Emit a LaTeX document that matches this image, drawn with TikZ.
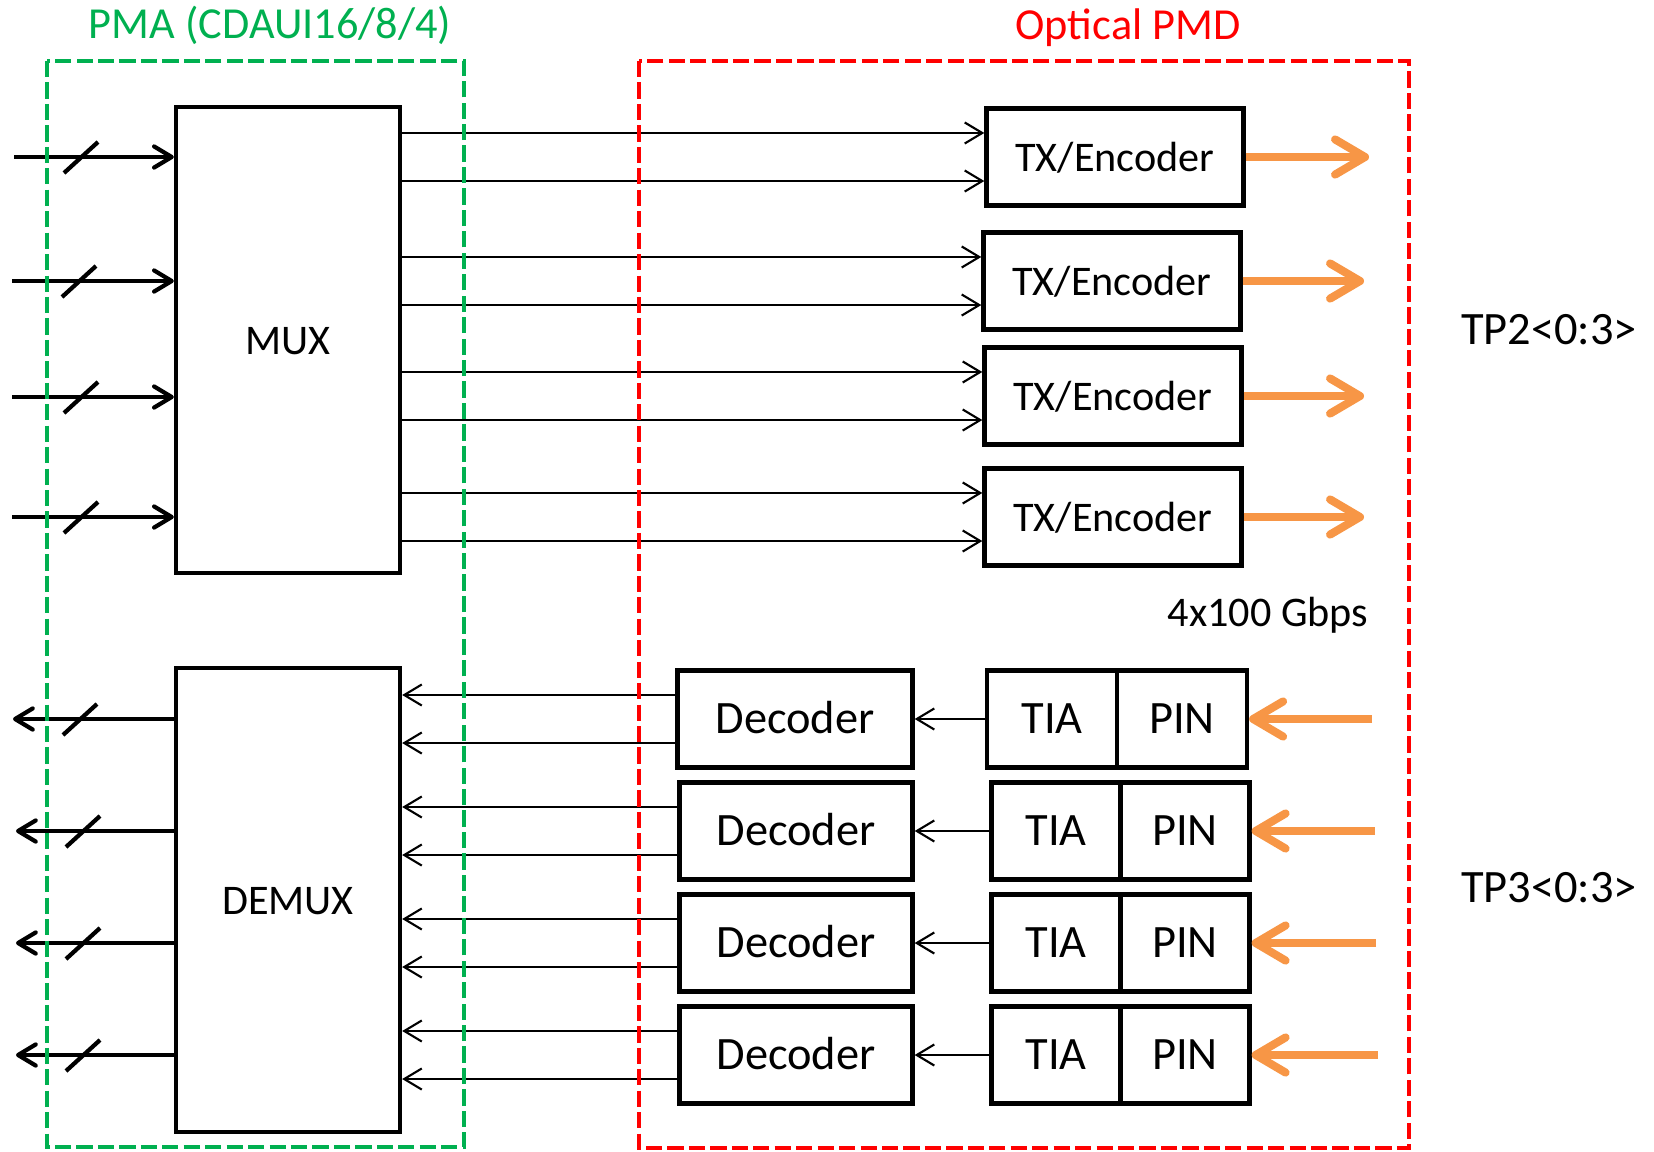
\documentclass[tikz,border=0pt]{standalone}
\usepackage{fontspec}
\setmainfont{Carlito}
\usetikzlibrary{arrows, arrows.meta}
\usetikzlibrary{calc}
\definecolor{pmagreen}{HTML}{00B050}
\definecolor{pmdred}{HTML}{FF0000}
\definecolor{fiberorange}{HTML}{F79646}

\begin{document}
\begin{tikzpicture}[x=0.01cm, y=-0.01cm,
    blk/.style={draw, line width=1.2pt, inner sep=0pt, text height=0.8em, text depth=0pt, font=\fontsize{12}{14}\selectfont},
    rxblk/.style={blk, minimum height=0.97cm, font=\fontsize{13.2}{15}\selectfont},
    lane/.style={line width=0.6pt, -{Straight Barb[length=5pt, width=6pt]}},
    bus/.style={line width=1.2pt, -{Straight Barb[length=5pt, width=6pt, round]}},
    busmark/.style={line width=1.2pt},
    fiber/.style={draw=fiberorange, line width=2.3pt, -{Straight Barb[length=8.5pt, width=10pt, round]}},
    frame/.style={line width=1.3pt, dash pattern=on 4.6pt off 1.5pt}]
    \useasboundingbox (0,0) rectangle (1654,1151);

    \node[blk, minimum width=2.24cm, minimum height=4.65cm] (mux) at (288,340) {MUX};
    \node[blk, minimum width=2.24cm, minimum height=4.63cm] (demux) at (288,900) {DEMUX};

    \node[blk, minimum width=2.57cm, minimum height=0.97cm] (tx1) at (1115,157) {TX/Encoder};
    \node[blk, minimum width=2.57cm, minimum height=0.97cm] (tx2) at (1112,281) {TX/Encoder};
    \node[blk, minimum width=2.57cm, minimum height=0.97cm] (tx3) at (1113,396) {TX/Encoder};
    \node[blk, minimum width=2.57cm, minimum height=0.97cm] (tx4) at (1113,517) {TX/Encoder};

    \node[rxblk, minimum width=2.35cm] (dec1) at (795,719) {Decoder};
    \node[rxblk, minimum width=2.33cm] (dec2) at (796,831) {Decoder};
    \node[rxblk, minimum width=2.33cm] (dec3) at (796,943) {Decoder};
    \node[rxblk, minimum width=2.33cm] (dec4) at (796,1055) {Decoder};
    \node[rxblk, minimum width=1.30cm] (tia1) at (1052,719) {TIA};
    \node[rxblk, minimum width=1.30cm] (pin1) at (1182,719) {PIN};
    \node[rxblk, minimum width=1.29cm] (tia2) at (1056,831) {TIA};
    \node[rxblk, minimum width=1.29cm] (pin2) at (1185,831) {PIN};
    \node[rxblk, minimum width=1.29cm] (tia3) at (1056,943) {TIA};
    \node[rxblk, minimum width=1.29cm] (pin3) at (1185,943) {PIN};
    \node[rxblk, minimum width=1.29cm] (tia4) at (1056,1055) {TIA};
    \node[rxblk, minimum width=1.29cm] (pin4) at (1185,1055) {PIN};

    \node[anchor=base, text=pmagreen, font=\fontsize{12.6}{15}\selectfont] (pma) at (270,38) {PMA (CDAUI16/8/4)};
    \node[anchor=base, text=pmdred, font=\fontsize{12.6}{15}\selectfont] (pmd) at (1128,39) {Optical PMD};
    \node[anchor=base, font=\fontsize{13.2}{15}\selectfont] (tp2) at (1549,344) {TP2<0:3>};
    \node[anchor=base, font=\fontsize{13.2}{15}\selectfont] (tp3) at (1549,902) {TP3<0:3>};
    \node[anchor=base, font=\fontsize{12}{14}\selectfont] (rate) at (1268,626) {4x100 Gbps};

    \coordinate (in1) at (14,157);
    \coordinate (in2) at (12,281);
    \coordinate (in3) at (12,397);
    \coordinate (in4) at (12,517);
    \coordinate (out1) at (13,719);
    \coordinate (out2) at (16,831);
    \coordinate (out3) at (16,943);
    \coordinate (out4) at (16,1055);
    \coordinate (o1) at (1369,157);
    \coordinate (o2) at (1364,281);
    \coordinate (o3) at (1364,396);
    \coordinate (o4) at (1364,517);
    \coordinate (r1) at (1372,719);
    \coordinate (r2) at (1375,831);
    \coordinate (r3) at (1376,943);
    \coordinate (r4) at (1378,1055);

    % lanes into and out of the PMA
    \draw[bus] (in1) -- (in1 -| mux.west);
    \draw[bus] (in2) -- (in2 -| mux.west);
    \draw[bus] (in3) -- (in3 -| mux.west);
    \draw[bus] (in4) -- (in4 -| mux.west);
    \draw[bus] (demux.west |- out1) -- (out1);
    \draw[bus] (demux.west |- out2) -- (out2);
    \draw[bus] (demux.west |- out3) -- (out3);
    \draw[bus] (demux.west |- out4) -- (out4);
    \draw[busmark] ($(in1)+(50,16)$) -- ++(34,-31);
    \draw[busmark] ($(in2)+(50,16)$) -- ++(34,-31);
    \draw[busmark] ($(in3)+(52,16)$) -- ++(34,-31);
    \draw[busmark] ($(in4)+(52,16)$) -- ++(34,-31);
    \draw[busmark] ($(out1)+(50,16)$) -- ++(34,-31);
    \draw[busmark] ($(out2)+(50,16)$) -- ++(34,-31);
    \draw[busmark] ($(out3)+(50,16)$) -- ++(34,-31);
    \draw[busmark] ($(out4)+(50,16)$) -- ++(34,-31);

    \draw[lane] ([yshift=0.24cm]tx1.west -| mux.east) -- ([yshift=0.24cm]tx1.west);
    \draw[lane] ([yshift=-0.24cm]tx1.west -| mux.east) -- ([yshift=-0.24cm]tx1.west);
    \draw[lane] ([yshift=0.24cm]tx2.west -| mux.east) -- ([yshift=0.24cm]tx2.west);
    \draw[lane] ([yshift=-0.24cm]tx2.west -| mux.east) -- ([yshift=-0.24cm]tx2.west);
    \draw[lane] ([yshift=0.24cm]tx3.west -| mux.east) -- ([yshift=0.24cm]tx3.west);
    \draw[lane] ([yshift=-0.24cm]tx3.west -| mux.east) -- ([yshift=-0.24cm]tx3.west);
    \draw[lane] ([yshift=0.24cm]tx4.west -| mux.east) -- ([yshift=0.24cm]tx4.west);
    \draw[lane] ([yshift=-0.24cm]tx4.west -| mux.east) -- ([yshift=-0.24cm]tx4.west);

    \draw[lane] ([yshift=0.24cm]dec1.west) -- ([yshift=0.24cm]dec1.west -| demux.east);
    \draw[lane] ([yshift=-0.24cm]dec1.west) -- ([yshift=-0.24cm]dec1.west -| demux.east);
    \draw[lane] ([yshift=0.24cm]dec2.west) -- ([yshift=0.24cm]dec2.west -| demux.east);
    \draw[lane] ([yshift=-0.24cm]dec2.west) -- ([yshift=-0.24cm]dec2.west -| demux.east);
    \draw[lane] ([yshift=0.24cm]dec3.west) -- ([yshift=0.24cm]dec3.west -| demux.east);
    \draw[lane] ([yshift=-0.24cm]dec3.west) -- ([yshift=-0.24cm]dec3.west -| demux.east);
    \draw[lane] ([yshift=0.24cm]dec4.west) -- ([yshift=0.24cm]dec4.west -| demux.east);
    \draw[lane] ([yshift=-0.24cm]dec4.west) -- ([yshift=-0.24cm]dec4.west -| demux.east);
    \draw[lane] (tia1) -- (dec1);
    \draw[lane] (tia2) -- (dec2);
    \draw[lane] (tia3) -- (dec3);
    \draw[lane] (tia4) -- (dec4);

    % optical side
    \draw[fiber] (tx1.east) -- (o1);
    \draw[fiber] (tx2.east) -- (o2);
    \draw[fiber] (tx3.east) -- (o3);
    \draw[fiber] (tx4.east) -- (o4);
    \draw[fiber] (r1) -- (pin1.east);
    \draw[fiber] (r2) -- (pin2.east);
    \draw[fiber] (r3) -- (pin3.east);
    \draw[fiber] (r4) -- (pin4.east);

    \draw[frame, pmagreen] (47,61) rectangle (464,1147);
    \draw[frame, pmdred] (639,61) rectangle (1409,1148);
  \end{tikzpicture}
\end{document}
